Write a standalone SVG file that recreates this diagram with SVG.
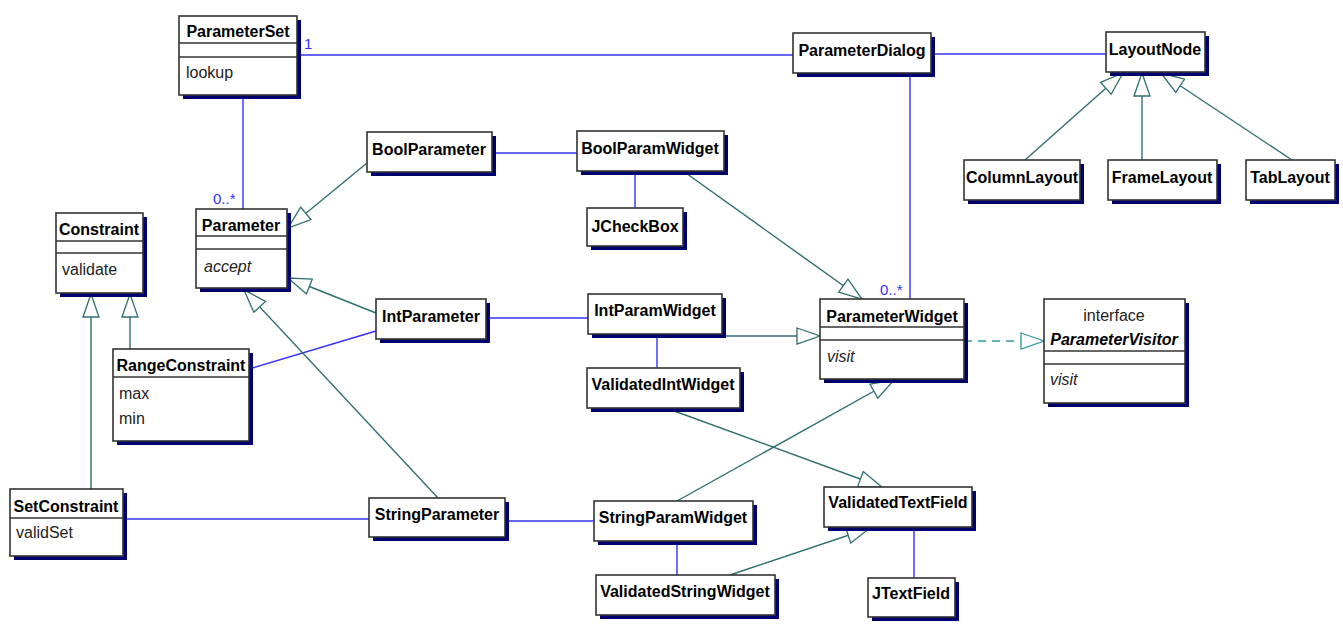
<svg xmlns="http://www.w3.org/2000/svg" width="1343" height="631" viewBox="0 0 1343 631">
<style>
.sh{fill:#000070}
.bx{fill:#fff;stroke:#333;stroke-width:1.6}
.dv{stroke:#333;stroke-width:1.6}
.nm{font-family:"Liberation Sans",Arial,sans-serif;font-weight:bold;font-size:16px;fill:#000;text-anchor:middle}
.at{font-family:"Liberation Sans",Arial,sans-serif;font-size:16px;fill:#222}
.op{font-family:"Liberation Sans",Arial,sans-serif;font-size:16px;fill:#222;font-style:italic}
.as{stroke:#3232ff;stroke-width:1.4;fill:none}
.gn{stroke:#2f6f6f;stroke-width:1.4;fill:none;marker-end:url(#gen)}
.rz{stroke:#339999;stroke-width:1.4;fill:none;stroke-dasharray:8 6;marker-end:url(#real)}
.ml{font-family:"Liberation Sans",Arial,sans-serif;font-size:15px;fill:#3232ff}
</style>
<defs>
<marker id="gen" markerWidth="26" markerHeight="20" refX="24" refY="9" orient="auto" markerUnits="userSpaceOnUse">
<path d="M1,1 L24,9 L1,17 z" fill="#fff" stroke="#2f6f6f" stroke-width="1.3"/>
</marker>
<marker id="real" markerWidth="26" markerHeight="20" refX="24" refY="9" orient="auto" markerUnits="userSpaceOnUse">
<path d="M1,1 L24,9 L1,17 z" fill="#fff" stroke="#339999" stroke-width="1.3"/>
</marker>
</defs>

<g id="connectors">
<line class="as" x1="297" y1="55" x2="793" y2="55"/>
<text class="ml" x="304" y="49">1</text>
<line class="as" x1="243" y1="95" x2="243" y2="209"/>
<text class="ml" x="213" y="204">0..*</text>
<line class="as" x1="931" y1="54" x2="1106" y2="54"/>
<line class="as" x1="910" y1="73" x2="910" y2="299"/>
<text class="ml" x="880" y="295">0..*</text>
<line class="as" x1="492" y1="153" x2="577" y2="153"/>
<line class="as" x1="635" y1="171" x2="635" y2="208"/>
<line class="as" x1="486" y1="318" x2="588" y2="318"/>
<line class="as" x1="657" y1="334" x2="657" y2="368"/>
<line class="as" x1="249" y1="369" x2="376" y2="331"/>
<line class="as" x1="123" y1="519" x2="369" y2="519"/>
<line class="as" x1="505" y1="521" x2="594" y2="521"/>
<line class="as" x1="677" y1="541" x2="677" y2="575"/>
<line class="as" x1="914" y1="527" x2="914" y2="578"/>

<line class="gn" x1="367" y1="163" x2="288" y2="228"/>
<line class="gn" x1="376" y1="313" x2="288" y2="278"/>
<line class="gn" x1="438" y1="498" x2="244" y2="290"/>
<line class="gn" x1="130" y1="349" x2="130" y2="294"/>
<line class="gn" x1="91" y1="489" x2="91" y2="294"/>
<line class="gn" x1="683" y1="171" x2="862" y2="299"/>
<line class="gn" x1="722" y1="336" x2="820" y2="336"/>
<line class="gn" x1="677" y1="501" x2="894" y2="380"/>
<line class="gn" x1="666" y1="408" x2="882" y2="487"/>
<line class="gn" x1="730" y1="575" x2="870" y2="528"/>
<line class="gn" x1="1025" y1="160" x2="1123" y2="73"/>
<line class="gn" x1="1142" y1="160" x2="1142" y2="73"/>
<line class="gn" x1="1292" y1="160" x2="1161" y2="73"/>
<line class="rz" x1="964" y1="341" x2="1044" y2="341"/>
</g>

<g id="ParameterSet">
<rect class="sh" x="183" y="20" width="118" height="79"/>
<rect class="bx" x="179" y="16" width="118" height="79"/>
<line class="dv" x1="179" y1="43" x2="297" y2="43"/>
<line class="dv" x1="179" y1="57" x2="297" y2="57"/>
<text class="nm" x="238" y="37">ParameterSet</text>
<text class="at" x="186" y="78">lookup</text>
</g>

<g id="Parameter">
<rect class="sh" x="200" y="213" width="91" height="79"/>
<rect class="bx" x="196" y="209" width="91" height="79"/>
<line class="dv" x1="196" y1="236" x2="287" y2="236"/>
<line class="dv" x1="196" y1="249" x2="287" y2="249"/>
<text class="nm" x="241" y="231">Parameter</text>
<text class="op" x="204" y="272">accept</text>
</g>

<g id="Constraint">
<rect class="sh" x="60" y="217" width="87" height="80"/>
<rect class="bx" x="56" y="213" width="87" height="80"/>
<line class="dv" x1="56" y1="241" x2="143" y2="241"/>
<line class="dv" x1="56" y1="253" x2="143" y2="253"/>
<text class="nm" x="99" y="235">Constraint</text>
<text class="at" x="62" y="275">validate</text>
</g>

<g id="RangeConstraint">
<rect class="sh" x="117" y="353" width="136" height="92"/>
<rect class="bx" x="113" y="349" width="136" height="92"/>
<line class="dv" x1="113" y1="377" x2="249" y2="377"/>
<text class="nm" x="181" y="371">RangeConstraint</text>
<text class="at" x="119" y="399">max</text>
<text class="at" x="119" y="424">min</text>
</g>

<g id="SetConstraint">
<rect class="sh" x="14" y="493" width="113" height="67"/>
<rect class="bx" x="10" y="489" width="113" height="67"/>
<line class="dv" x1="10" y1="518" x2="123" y2="518"/>
<text class="nm" x="66" y="512">SetConstraint</text>
<text class="at" x="16" y="538">validSet</text>
</g>

<g id="BoolParameter">
<rect class="sh" x="371" y="136" width="125" height="40"/>
<rect class="bx" x="367" y="132" width="125" height="40"/>
<text class="nm" x="429" y="155">BoolParameter</text>
</g>

<g id="IntParameter">
<rect class="sh" x="380" y="303" width="110" height="40"/>
<rect class="bx" x="376" y="299" width="110" height="40"/>
<text class="nm" x="431" y="322">IntParameter</text>
</g>

<g id="StringParameter">
<rect class="sh" x="373" y="502" width="136" height="39"/>
<rect class="bx" x="369" y="498" width="136" height="39"/>
<text class="nm" x="437" y="520">StringParameter</text>
</g>

<g id="BoolParamWidget">
<rect class="sh" x="581" y="135" width="147" height="40"/>
<rect class="bx" x="577" y="131" width="147" height="40"/>
<text class="nm" x="650" y="154">BoolParamWidget</text>
</g>

<g id="JCheckBox">
<rect class="sh" x="591" y="212" width="96" height="38"/>
<rect class="bx" x="587" y="208" width="96" height="38"/>
<text class="nm" x="635" y="232">JCheckBox</text>
</g>

<g id="IntParamWidget">
<rect class="sh" x="592" y="298" width="134" height="40"/>
<rect class="bx" x="588" y="294" width="134" height="40"/>
<text class="nm" x="655" y="316">IntParamWidget</text>
</g>

<g id="ValidatedIntWidget">
<rect class="sh" x="591" y="372" width="153" height="40"/>
<rect class="bx" x="587" y="368" width="153" height="40"/>
<text class="nm" x="663" y="390">ValidatedIntWidget</text>
</g>

<g id="StringParamWidget">
<rect class="sh" x="598" y="505" width="159" height="40"/>
<rect class="bx" x="594" y="501" width="159" height="40"/>
<text class="nm" x="673" y="523">StringParamWidget</text>
</g>

<g id="ValidatedStringWidget">
<rect class="sh" x="600" y="579" width="179" height="40"/>
<rect class="bx" x="596" y="575" width="179" height="40"/>
<text class="nm" x="685" y="597">ValidatedStringWidget</text>
</g>

<g id="ParameterWidget">
<rect class="sh" x="824" y="303" width="144" height="80"/>
<rect class="bx" x="820" y="299" width="144" height="80"/>
<line class="dv" x1="820" y1="327" x2="964" y2="327"/>
<line class="dv" x1="820" y1="340" x2="964" y2="340"/>
<text class="nm" x="892" y="322">ParameterWidget</text>
<text class="op" x="827" y="362">visit</text>
</g>

<g id="ParameterVisitor">
<rect class="sh" x="1048" y="303" width="141" height="104"/>
<rect class="bx" x="1044" y="299" width="141" height="104"/>
<line class="dv" x1="1044" y1="351" x2="1185" y2="351"/>
<line class="dv" x1="1044" y1="364" x2="1185" y2="364"/>
<text class="at" x="1114" y="321" text-anchor="middle">interface</text>
<text class="nm" x="1114" y="345" font-style="italic">ParameterVisitor</text>
<text class="op" x="1050" y="385">visit</text>
</g>

<g id="ValidatedTextField">
<rect class="sh" x="828" y="491" width="148" height="40"/>
<rect class="bx" x="824" y="487" width="148" height="40"/>
<text class="nm" x="898" y="508">ValidatedTextField</text>
</g>

<g id="JTextField">
<rect class="sh" x="872" y="582" width="87" height="39"/>
<rect class="bx" x="868" y="578" width="87" height="39"/>
<text class="nm" x="911" y="599">JTextField</text>
</g>

<g id="ParameterDialog">
<rect class="sh" x="797" y="37" width="138" height="40"/>
<rect class="bx" x="793" y="33" width="138" height="40"/>
<text class="nm" x="862" y="56">ParameterDialog</text>
</g>

<g id="LayoutNode">
<rect class="sh" x="1110" y="36" width="99" height="40"/>
<rect class="bx" x="1106" y="32" width="99" height="40"/>
<text class="nm" x="1155" y="55">LayoutNode</text>
</g>

<g id="ColumnLayout">
<rect class="sh" x="968" y="164" width="116" height="40"/>
<rect class="bx" x="964" y="160" width="116" height="40"/>
<text class="nm" x="1022" y="183">ColumnLayout</text>
</g>

<g id="FrameLayout">
<rect class="sh" x="1112" y="164" width="109" height="40"/>
<rect class="bx" x="1108" y="160" width="109" height="40"/>
<text class="nm" x="1162" y="183">FrameLayout</text>
</g>

<g id="TabLayout">
<rect class="sh" x="1250" y="164" width="89" height="40"/>
<rect class="bx" x="1246" y="160" width="89" height="40"/>
<text class="nm" x="1290" y="183">TabLayout</text>
</g>
</svg>
